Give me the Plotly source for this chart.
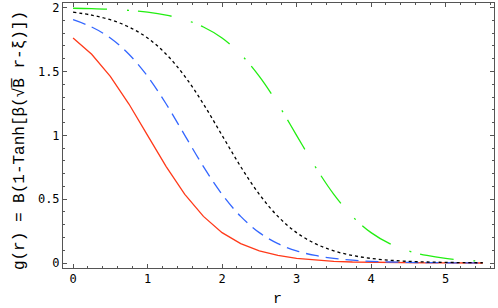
import plotly.graph_objects as go

r = [0, 0.25, 0.5, 0.75, 1, 1.25, 1.5, 1.75, 2, 2.25, 2.5, 2.75, 3, 3.25, 3.5,
     3.75, 4, 4.25, 4.5, 4.75, 5, 5.25, 5.5]

red = [1.762, 1.635, 1.462, 1.245, 1.0, 0.755, 0.538, 0.365, 0.238, 0.152, 0.095,
       0.059, 0.036, 0.022, 0.013, 0.008, 0.005, 0.003, 0.002, 0.001, 0.001, 0.0, 0.0]
blue = [1.905, 1.848, 1.762, 1.635, 1.462, 1.245, 1.0, 0.755, 0.538, 0.365, 0.238,
        0.152, 0.095, 0.059, 0.036, 0.022, 0.013, 0.008, 0.005, 0.003, 0.002, 0.001, 0.001]
black = [1.964, 1.941, 1.905, 1.848, 1.762, 1.635, 1.462, 1.245, 1.0, 0.755, 0.538,
         0.365, 0.238, 0.152, 0.095, 0.059, 0.036, 0.022, 0.013, 0.008, 0.005, 0.003, 0.002]
green = [1.995, 1.992, 1.987, 1.978, 1.964, 1.941, 1.905, 1.848, 1.762, 1.635, 1.462,
         1.245, 1.0, 0.755, 0.538, 0.365, 0.238, 0.152, 0.095, 0.059, 0.036, 0.022, 0.013]

fig = go.Figure()
fig.add_trace(go.Scatter(x=r, y=red, mode="lines",
                         line=dict(color="#ff3a1a", width=1.3)))
fig.add_trace(go.Scatter(x=r, y=blue, mode="lines",
                         line=dict(color="#3366ff", width=1.3, dash="13px,7px", shape="spline")))
fig.add_trace(go.Scatter(x=r, y=black, mode="lines",
                         line=dict(color="#000000", width=1.3, dash="3px,3px", shape="spline")))
fig.add_trace(go.Scatter(x=r, y=green, mode="lines",
                         line=dict(color="#22ee11", width=1.3, dash="34px,20px,2px,9px", shape="spline")))

axis_common = dict(
    showgrid=False, zeroline=False, showline=True, linecolor="#555555", linewidth=1,
    mirror="allticks", ticks="inside", ticklen=4, tickwidth=1, tickcolor="#555555",
    tickfont=dict(family="DejaVu Sans Mono", size=12, color="#000000"),
    automargin=False,
)

fig.update_layout(
    width=498, height=308,
    margin=dict(l=63, r=4, t=3, b=40),
    paper_bgcolor="white", plot_bgcolor="white",
    showlegend=False,
    xaxis=dict(range=[-0.135, 5.65], dtick=1, tick0=0,
               minor=dict(dtick=0.2, ticks="inside", ticklen=2, tickcolor="#555555"),
               **axis_common),
    yaxis=dict(range=[-0.039, 2.036], dtick=0.5, tick0=0,
               minor=dict(dtick=0.1, ticks="inside", ticklen=2, tickcolor="#555555"),
               **axis_common),
)

fig.add_annotation(text="r", xref="paper", yref="paper", x=0.497, y=-0.078,
                   xanchor="center", yanchor="top", showarrow=False,
                   font=dict(family="Liberation Mono", size=15, color="#000000"))
fig.add_annotation(text="g(r) = B(1-Tanh[β(√B\u0305 r-ξ)])", xref="paper", yref="paper",
                   x=-0.10, y=-0.014, xanchor="center", yanchor="bottom", textangle=-90,
                   showarrow=False,
                   font=dict(family="Liberation Mono", size=16, color="#000000"))

fig.write_html("out.html", config={"displayModeBar": False},
               post_script="document.body.style.margin='0';")
